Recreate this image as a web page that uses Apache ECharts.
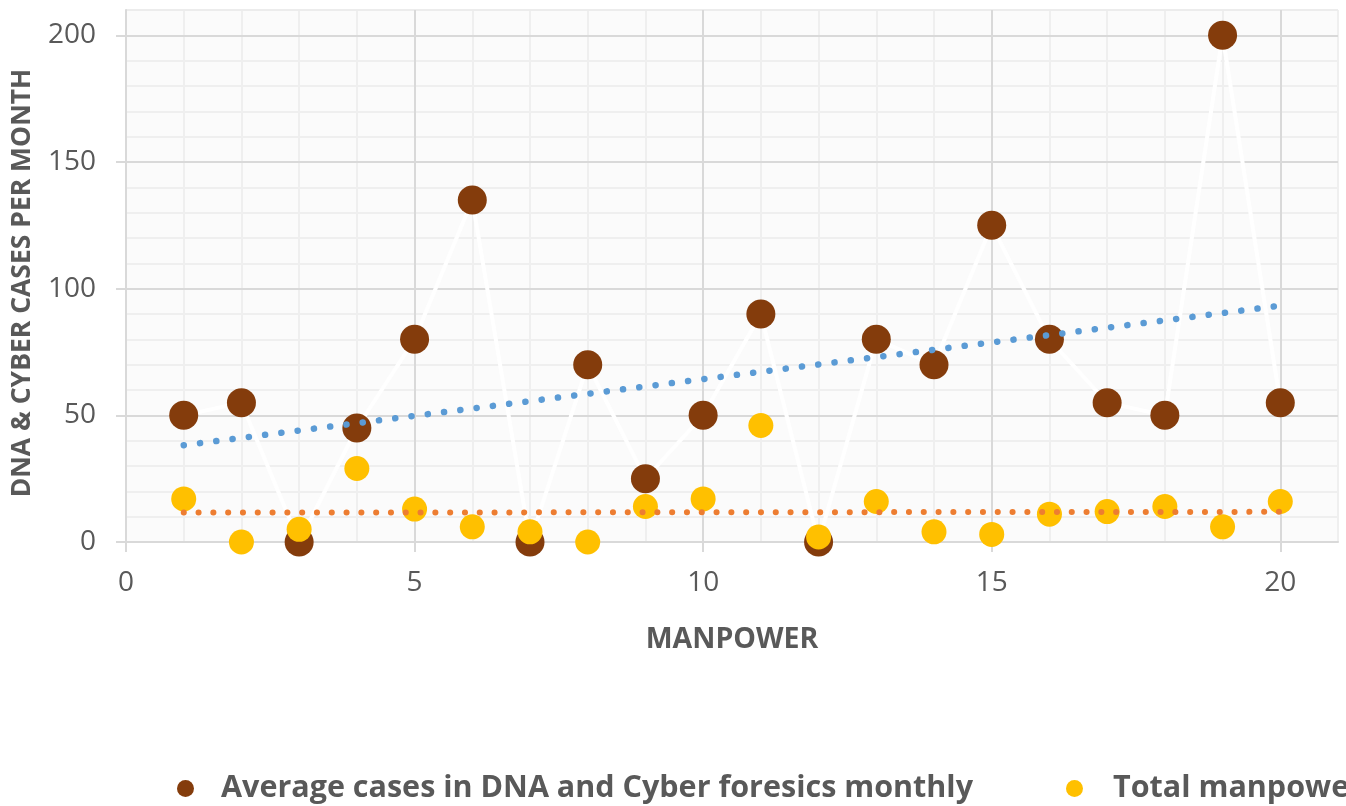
<!DOCTYPE html>
<html>
<head>
<meta charset="utf-8">
<script src="https://cdn.jsdelivr.net/npm/echarts@6/dist/echarts.min.js"></script>
<style>
html,body{margin:0;padding:0;background:#fff;}
#c{width:1346px;height:806px;}
</style>
</head>
<body>
<div id="c"></div>
<script>
// ---- data ----
var manpower = [1,2,3,4,5,6,7,8,9,10,11,12,13,14,15,16,17,18,19,20];
var avgCases = [50,55,0,45,80,135,0,70,25,50,90,0,80,70,125,80,55,50,200,55];
var totalManpower = [17,0,5,29,13,6,4,0,14,17,46,2,16,4,3,11,12,14,6,16];
var xTicks = [0,5,10,15,20];
var seriesNames = ['Average cases in DNA and Cyber foresics monthly','Total manpowe'];
var xTitle = 'MANPOWER';
var yTitle = 'DNA & CYBER CASES PER MONTH';

function pairs(xs, ys){ return xs.map(function(x,i){ return [x, ys[i]]; }); }
function trend(xs, ys){
  var n = xs.length, mx = 0, my = 0;
  for (var i=0;i<n;i++){ mx += xs[i]; my += ys[i]; }
  mx/=n; my/=n;
  var sxy=0, sxx=0;
  for (var j=0;j<n;j++){ sxy += (xs[j]-mx)*(ys[j]-my); sxx += (xs[j]-mx)*(xs[j]-mx); }
  var b = sxy/sxx, a = my - b*mx;
  var x0 = xs[0], x1 = xs[n-1];
  return [[x0, a+b*x0],[x1, a+b*x1]];
}

var MAJ = '#d9d9d9', MIN = '#efefef', TXT = '#595959';
var FONT = '"Open Sans", sans-serif';

var chart = echarts.init(document.getElementById('c'));
chart.setOption({
  backgroundColor: '#ffffff',
  animation: false,
  grid: {left:126, right:8, top:10, bottom:264, show:true, backgroundColor:'#fbfbfb', borderColor:'#ececec', borderWidth:1},
  legend: [
    {data:[{name:seriesNames[0], icon:'circle'}], left:172, top:768, itemWidth:17, itemHeight:17,
     textStyle:{fontFamily:FONT, fontSize:30.5, fontWeight:'bold', color:TXT, padding:[0,0,0,22]}},
    {data:[{name:seriesNames[1], icon:'circle'}], left:1061, top:768, itemWidth:17, itemHeight:17,
     textStyle:{fontFamily:FONT, fontSize:30.5, fontWeight:'bold', color:TXT, padding:[0,0,0,25]}}
  ],
  xAxis: [
    {type:'value', min:0, max:21, interval:5,
     name:xTitle, nameLocation:'middle', nameGap:83,
     nameTextStyle:{fontFamily:FONT, fontSize:28.5, fontWeight:'bold', color:TXT},
     axisLine:{show:true, onZero:false, lineStyle:{color:MAJ, width:2}},
     axisTick:{show:true, length:10, lineStyle:{color:MAJ, width:2}, customValues:xTicks},
     axisLabel:{fontFamily:FONT, fontSize:28, color:TXT, margin:27, customValues:xTicks},
     splitLine:{show:true, lineStyle:{color:[MAJ,MAJ,MAJ,MAJ,MAJ,'#ececec'], width:2}},
     z:3},
    {type:'value', min:0, max:21, interval:1, show:true, position:'bottom',
     axisLine:{show:false}, axisTick:{show:false}, axisLabel:{show:false},
     splitLine:{show:true, lineStyle:{color:MIN, width:2}}, z:1}
  ],
  yAxis: [
    {type:'value', min:0, max:210, interval:50,
     name:yTitle, nameLocation:'middle', nameGap:90,
     nameTextStyle:{fontFamily:FONT, fontSize:26.5, fontWeight:'bold', color:TXT, padding:[0,14,0,0]},
     axisLine:{show:true, lineStyle:{color:MAJ, width:2}},
     axisTick:{show:true, length:10, lineStyle:{color:MAJ, width:2}},
     axisLabel:{fontFamily:FONT, fontSize:28, color:TXT, margin:30, showMaxLabel:false},
     splitLine:{show:true, lineStyle:{color:[MAJ,MAJ,MAJ,MAJ,MAJ,'#ececec'], width:2}},
     z:3},
    {type:'value', min:0, max:210, interval:10, position:'left',
     axisLine:{show:false}, axisTick:{show:false}, axisLabel:{show:false},
     splitLine:{show:true, lineStyle:{color:MIN, width:2}}, z:1}
  ],
  series: [
    {name:seriesNames[0], type:'line', data:pairs(manpower, avgCases),
     symbol:'circle', symbolSize:29, showAllSymbol:true,
     itemStyle:{color:'#843C0C', opacity:1}, lineStyle:{color:'#ffffff', width:4}, z:4},
    {name:seriesNames[1], type:'scatter', data:pairs(manpower, totalManpower),
     symbol:'circle', symbolSize:25, itemStyle:{color:'#FFC000', opacity:1}, z:5},
    {name:'trend1', type:'line', data:trend(manpower, avgCases), showSymbol:false, symbol:'none',
     lineStyle:{color:'#5B9BD5', width:6.5, type:[0.1,16.3], cap:'round'}, z:6, silent:true},
    {name:'trend2', type:'line', data:trend(manpower, totalManpower), showSymbol:false, symbol:'none',
     lineStyle:{color:'#ED7D31', width:6, type:[0.1,14.7], cap:'round'}, z:6, silent:true}
  ]
});
</script>
</body>
</html>
